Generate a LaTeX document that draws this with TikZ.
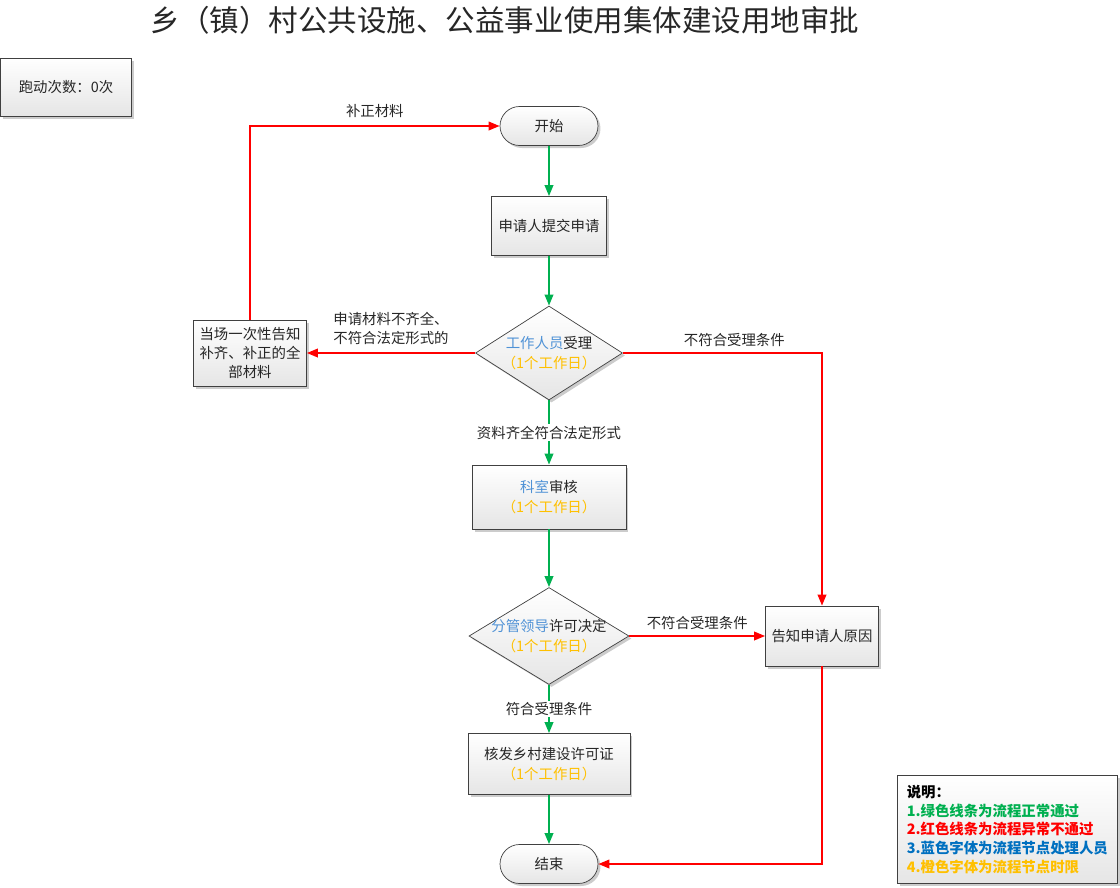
\documentclass[tikz,border=0pt]{standalone}
\usepackage{fontspec}
\setmainfont{Noto Sans CJK SC}
\usetikzlibrary{shapes.geometric,arrows.meta,positioning,shadows}

\definecolor{okgreen}{RGB}{0,176,80}
\definecolor{badred}{RGB}{255,0,0}
\definecolor{whoblue}{RGB}{79,146,214}
\definecolor{legblue}{RGB}{0,112,192}
\definecolor{whenorange}{RGB}{255,192,0}

\newcommand{\who}[1]{\textcolor{whoblue}{#1}}
\newcommand{\when}[1]{\textcolor{whenorange}{#1}}

\tikzset{
  base/.style={draw=black!75, thin, top color=white, bottom color=black!10,
    drop shadow={shadow xshift=0.05cm, shadow yshift=-0.05cm, fill=black!20, opacity=1},
    align=center, inner sep=1pt, text=black!85},
  box/.style={base, rectangle},
  term/.style={base, rectangle, rounded corners=0.39cm, minimum width=1.96cm, minimum height=0.78cm},
  decision/.style={base, diamond, inner sep=0pt},
  ok/.style={okgreen, line width=1.1pt, -{Triangle[length=0.22cm,width=0.17cm]}},
  bad/.style={badred, line width=1.1pt, -{Triangle[length=0.22cm,width=0.17cm]}},
  lbl/.style={text=black!85, inner sep=1pt}
}

\begin{document}
\begin{tikzpicture}[x=0.02cm, y=-0.02cm, font=\fontsize{8.2}{11}\selectfont]
\useasboundingbox (0,0) rectangle (1120,887);

\node[text=black!85] (title) at (505,20) {\fontsize{16.8}{20}\selectfont 乡（镇）村公共设施、公益事业使用集体建设用地审批};

\node[box, minimum width=2.62cm, minimum height=1.16cm] (count) at (66,87) {跑动次数：0次};

% main flow
\node[term] (start) at (549,126) {开始};
\node[box, minimum width=2.3cm, minimum height=1.18cm] (apply) at (549,226) {申请人提交申请};
\node[decision, minimum width=2.94cm, minimum height=1.88cm,
  label={[lbl, align=center]center:\who{工作人员}受理\\\when{（1个工作日）}}] (accept) at (549,353) {};
\node[box, minimum width=2.26cm, minimum height=1.32cm] (notify) at (250,353) {当场一次性告知\\补齐、补正的全\\部材料};
\node[box, minimum width=3.08cm, minimum height=1.28cm] (review) at (549,497) {\who{科室}审核\\\when{（1个工作日）}};
\node[decision, minimum width=3.2cm, minimum height=1.94cm,
  label={[lbl, align=center]center:\who{分管领导}许可决定\\\when{（1个工作日）}}] (decide) at (549,636) {};
\node[box, minimum width=2.26cm, minimum height=1.2cm] (reason) at (822,636) {告知申请人原因};
\node[box, minimum width=3.24cm, minimum height=1.22cm] (issue) at (549,764) {核发乡村建设许可证\\\when{（1个工作日）}};
\node[term] (end) at (549,864) {结束};

% legend
\node[box, anchor=north west, align=left, minimum width=4.4cm, minimum height=2.16cm, font=\fontsize{8.2}{10.6}\selectfont\bfseries] (legend) at (897,775)
  {\textcolor{black}{说明：}\\\textcolor{okgreen}{1.绿色线条为流程正常通过}\\\textcolor{badred}{2.红色线条为流程异常不通过}\\\textcolor{legblue}{3.蓝色字体为流程节点处理人员}\\\textcolor{whenorange}{4.橙色字体为流程节点时限}};

% normal path
\draw[ok] (start) -- (apply);
\draw[ok] (apply) -- (accept);
\draw[ok] (accept) -- node[lbl, fill=white]{资料齐全符合法定形式} (review);
\draw[ok] (review) -- (decide);
\draw[ok] (decide) -- node[lbl, fill=white]{符合受理条件} (issue);
\draw[ok] (issue) -- (end);

% rejected path
\draw[bad] (accept.west) -- node[lbl, above=3pt, align=left]{申请材料不齐全、\\不符合法定形式的} (notify.east);
\draw[bad] (notify.north) |- node[lbl, pos=0.75, above=3pt]{补正材料} (start.west);
\draw[bad] (accept.east) -| node[lbl, pos=0.28, above=2pt]{不符合受理条件} (reason.north);
\draw[bad] (decide.east) -- node[lbl, above=2pt]{不符合受理条件} (reason.west);
\draw[bad] (reason.south) |- (end.east);
\end{tikzpicture}
\end{document}
